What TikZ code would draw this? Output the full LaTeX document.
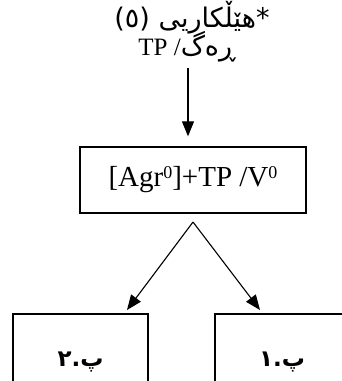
\documentclass[tikz,border=0pt]{standalone}
\usepackage{fontspec}
\setmainfont{Liberation Serif}
\newfontfamily\arabicfont[Script=Arabic]{DejaVu Sans}
\TeXXeTstate=1
\usetikzlibrary{arrows.meta}
\newcommand\supz{\raisebox{8pt}{\fontsize{18}{18}\selectfont 0}}
\begin{document}
\begin{tikzpicture}[x=1pt,y=-1pt,
  box/.style={draw, line width=1.3pt, inner sep=0pt},
  arr/.style={line width=1.1pt, -{Triangle[length=15pt,width=12pt]}},
  lbl/.style={inner sep=0pt, anchor=base}]
\useasboundingbox (0,0) rectangle (342,381);
\clip (0,0) rectangle (342,381);
% top label
\node[lbl] (t1) at (192,27) {\fontsize{27}{30}\arabicfont\beginR *هێڵکاریی (٥)\endR};
\node[lbl] (t2) at (187,55) {\fontsize{25}{30}\selectfont\beginR{\arabicfont\fontsize{27}{30}\selectfont ڕەگ}/ \beginL TP\endL\endR};
\coordinate (a0) at (188,68);
% middle box
\node[box, minimum width=226pt, minimum height=66pt] (mid) at (193,180)
  {\fontsize{29}{34}\selectfont [Agr\supz]+TP /V\supz};
\coordinate (ap) at (193,222);
% bottom boxes
\node[box, minimum width=135pt, minimum height=96pt] (l) at (80.5,362)
  {\raisebox{-4pt}{\fontsize{23}{26}\arabicfont\bfseries\beginR پ.٢\endR}};
\node[box, minimum width=134pt, minimum height=96pt] (r) at (282,362)
  {\raisebox{-4pt}{\fontsize{23}{26}\arabicfont\bfseries\beginR پ.١\endR}};
\coordinate (lt) at (127,310);
\coordinate (rt) at (260,310);
% arrows
\draw[arr] (a0) -- ([yshift=10pt]a0 |- mid.north);
\draw[arr] (ap) -- (lt);
\draw[arr] (ap) -- (rt);
\end{tikzpicture}
\end{document}
